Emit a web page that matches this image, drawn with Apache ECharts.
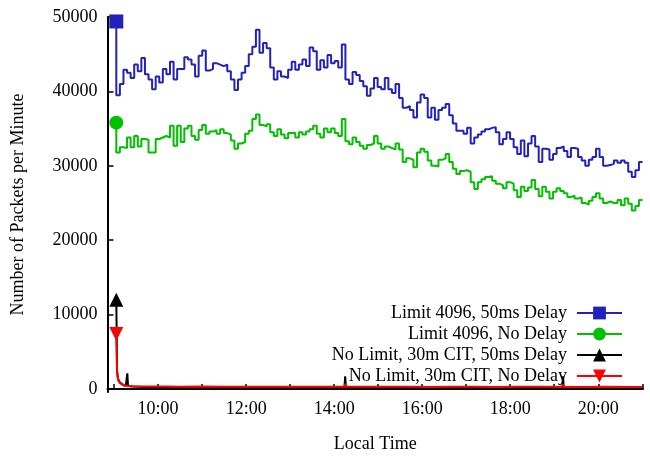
<!DOCTYPE html>
<html>
<head>
<meta charset="utf-8">
<script src="https://cdn.jsdelivr.net/npm/echarts@6/dist/echarts.min.js"></script>
<style>
  html, body { margin: 0; padding: 0; background: #fff; }
  #chart { width: 650px; height: 458px; }
</style>
</head>
<body>
<div id="chart"></div>
<script>
// series names (legend order)
const seriesNames = [
  'Limit 4096, 50ms Delay',
  'Limit 4096, No Delay',
  'No Limit, 30m CIT, 50ms Delay',
  'No Limit, 30m CIT, No Delay'
];

// blue / green are sampled on a regular grid (minutes since midnight)
const sampleStart = 543;   // 9:03
const sampleStep = 4.88;

const limitDelay = [
  49400, 39500, 41000, 42900, 42500, 41800, 43600, 42700, 44500, 42300,
  41600, 40300, 42000, 41200, 43000, 42300, 44000, 41600, 43000, 43000,
  44600, 44300, 43600, 42000, 44800, 45500, 42800, 43000, 43800, 43600,
  43400, 43600, 42700, 41600, 40200, 41600, 42500, 43400, 45000, 46000,
  48300, 45200, 46500, 45800, 43200, 41600, 42700, 42000, 41800, 42900,
  44000, 42900, 43600, 44300, 43400, 45900, 45400, 42900, 44200, 43200,
  44900, 43800, 44100, 43200, 46300, 41600, 41000, 42600, 42200, 41400,
  40700, 39400, 40400, 41800, 40600, 40300, 41800, 40300, 39800, 41000,
  39100, 37800, 38000, 37500, 36500, 38500, 39600, 39100, 36500, 37800,
  36200, 37500, 37800, 38300, 36800, 35700, 34700, 34700, 34300, 35100,
  33000, 33800, 34200, 34600, 34900, 35100, 35200, 34500, 32900, 33600,
  34500, 33600, 32500, 31600, 33400, 31300, 33000, 34000, 32600, 30500,
  32300, 32200, 30800, 31600, 32400, 32600, 32000, 31200, 32400, 32300,
  31200, 30700, 30000, 30800, 31200, 32300, 31200, 30000, 30100, 30300,
  30700, 30400, 30700, 30400, 29200, 28500, 29400, 30500
];

const limitNoDelay = [
  35800, 31800, 32500, 32400, 33800, 32500, 34000, 32600, 33600, 33500,
  31800, 31800, 33600, 33800, 34000, 33800, 35400, 32700, 35400, 33200,
  35000, 35400, 34000, 33500, 34800, 35500, 34300, 34600, 34800, 34300,
  34900, 34400, 34200, 33400, 32300, 33000, 33200, 34300, 34700, 36300,
  36900, 35500, 35300, 35600, 34500, 34000, 34900, 34200, 33700, 34400,
  34400, 33800, 34500, 34200, 34600, 34900, 35400, 34300, 33800, 35000,
  34500, 35000, 34400, 34000, 36300, 33300, 32900, 33800, 33200, 32700,
  32300, 32800, 33000, 34000, 33000, 32300, 32600, 32400, 32200, 33000,
  32200, 30500, 31000, 30800, 29800, 31800, 32300, 31900, 30700, 30000,
  29900, 30800, 31000, 31600, 30500, 29600, 28900, 29300, 29400, 29200,
  27800, 26900, 27800, 28200, 28500, 28600, 28000, 27600, 27400, 27000,
  27800, 27600, 26700, 25800, 27200, 26600, 27100, 28100, 26900, 25900,
  27200, 26500, 25600, 26500, 27000, 26600, 26300, 25800, 26000, 25600,
  25700, 25000, 24800, 25300, 25800, 26300, 25600, 25000, 25200, 25000,
  25000, 25400, 24700, 25600, 24900, 24000, 24600, 25400
];

// the two "no limit" runs, explicit times (minutes since midnight)
const noLimitDelayT = [543, 544, 545, 546, 548, 550, 553, 556, 557, 558, 559, 565, 580, 610, 660, 720,
  780, 840, 854, 855, 856, 900, 960, 1020, 1080, 1151, 1152, 1153, 1200, 1260];
const noLimitDelay = [12000, 2500, 1600, 1200, 850, 650, 520, 450, 440, 2100, 420, 330, 260, 220, 200, 210,
  190, 200, 200, 1700, 200, 190, 180, 190, 180, 170, 1700, 170, 170, 160];

const noLimitNoDelayT = [543, 544, 545, 546, 548, 550, 553, 556, 560, 565, 575, 590, 610, 630, 660, 690,
  720, 750, 780, 810, 840, 854, 855, 856, 880, 910, 940, 970, 1000, 1030, 1060, 1090, 1120, 1151, 1152,
  1153, 1180, 1210, 1240, 1260];
const noLimitNoDelay = [7400, 2300, 1500, 1100, 800, 650, 520, 450, 400, 370, 350, 330, 340, 310, 330, 300,
  320, 310, 290, 320, 300, 310, 700, 300, 290, 310, 300, 280, 300, 290, 280, 300, 290, 280, 650,
  280, 270, 290, 280, 270];

// axis ticks
const xTicks = [540, 600, 660, 720, 780, 840, 900, 960, 1020, 1080, 1140, 1200, 1260];
const xLabels = [600, 720, 840, 960, 1080, 1200];
const yTicks = [0, 10000, 20000, 30000, 40000, 50000];

const colors = ['#2222bb', '#00c000', '#000000', '#ff0000'];
const symbols = ['rect', 'circle', 'triangle', 'path://M0,0 L10,0 L5,8.7 Z'];
const font = 'Liberation Serif';

function gridSeries(vals) {
  return vals.map((v, i) => [sampleStart + i * sampleStep, v]);
}
function pairSeries(ts, vals) {
  return vals.map((v, i) => [ts[i], v]);
}

const seriesData = [
  gridSeries(limitDelay),
  gridSeries(limitNoDelay),
  pairSeries(noLimitDelayT, noLimitDelay),
  pairSeries(noLimitNoDelayT, noLimitNoDelay)
];

const chart = echarts.init(document.getElementById('chart'));
chart.setOption({
  animation: false,
  backgroundColor: '#fff',
  textStyle: { fontFamily: font, color: '#000' },
  grid: { left: 107.5, right: 7, top: 17, bottom: 63, containLabel: false },
  legend: {
    data: seriesNames,
    orient: 'vertical',
    align: 'right',
    right: 27,
    top: 304,
    padding: 0,
    itemWidth: 45,
    itemHeight: 16,
    itemGap: 3,
    textStyle: { fontFamily: font, fontSize: 18, color: '#000', padding: [0, 5, 0, 0] }
  },
  xAxis: {
    type: 'value',
    min: 531,
    max: 1261,
    name: 'Local Time',
    nameLocation: 'middle',
    nameGap: 43,
    nameTextStyle: { fontFamily: font, fontSize: 18, color: '#000' },
    axisLine: { lineStyle: { color: '#000', width: 2 } },
    axisTick: { inside: true, length: 5, customValues: xTicks, lineStyle: { color: '#000', width: 1.5 } },
    axisLabel: {
      customValues: xLabels,
      fontFamily: font, fontSize: 18, color: '#000', margin: 8,
      formatter: v => Math.round(v / 60) + ':00'
    },
    splitLine: { show: false }
  },
  yAxis: {
    type: 'value',
    min: -400,
    max: 50000,
    name: 'Number of Packets per Minute',
    nameLocation: 'middle',
    nameGap: 80,
    nameTextStyle: { fontFamily: font, fontSize: 18, color: '#000' },
    axisLine: { lineStyle: { color: '#000', width: 2 } },
    axisTick: { inside: true, length: 6, customValues: yTicks, lineStyle: { color: '#000', width: 1.5 } },
    axisLabel: {
      customValues: yTicks,
      fontFamily: font, fontSize: 18, color: '#000', margin: 10,
      formatter: v => String(v)
    },
    splitLine: { show: false }
  },
  series: seriesNames.map((name, k) => ({
    name: name,
    type: 'line',
    step: k < 2 ? 'start' : false,
    data: seriesData[k],
    color: colors[k],
    symbol: symbols[k],
    symbolSize: (v, p) => (p.dataIndex === 0 ? 14 : 0),
    lineStyle: { width: 2, color: colors[k] },
    itemStyle: { color: colors[k] },
    emphasis: { disabled: true },
    z: 2 + k
  }))
});
</script>
</body>
</html>
